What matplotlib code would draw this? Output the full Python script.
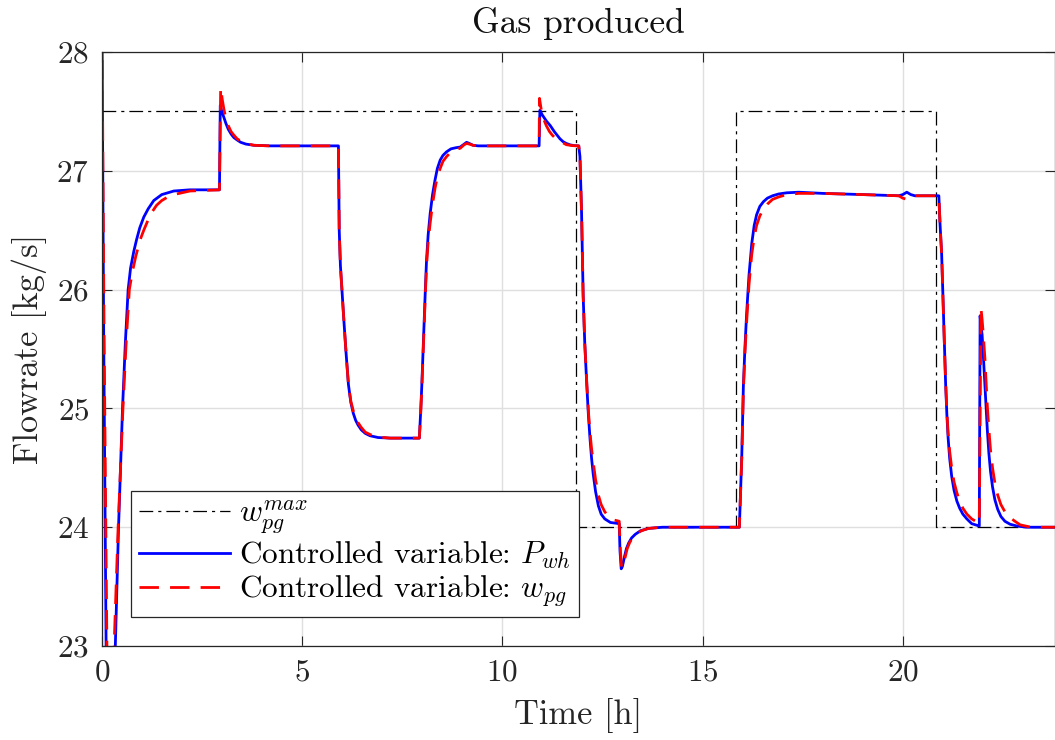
import numpy as np
import matplotlib
matplotlib.use("Agg")
import matplotlib.pyplot as plt

# upper limit on produced gas (dash-dot)
t_max = [0, 11.84, 11.84, 15.84, 15.84, 20.84, 20.84, 23.8]
w_max = [27.5, 27.5, 24.0, 24.0, 27.5, 27.5, 24.0, 24.0]

# controlled variable: P_wh (blue, solid) -- (time [h], flowrate [kg/s])
pwh_points = [
    (0, 28.6), (0.05, 25.6), (0.11, 23.0), (0.2, 22.3), (0.34, 23.0), (0.42, 24.0), (0.52, 25.0),
    (0.59, 25.55), (0.66, 26.0), (0.72, 26.18), (0.8, 26.32), (0.87, 26.42), (0.95, 26.52),
    (1.05, 26.61), (1.16, 26.68), (1.3, 26.75), (1.5, 26.80), (1.8, 26.83), (2.2, 26.84), (2.94, 26.84),
    (2.96, 27.55), (3.0, 27.50), (3.05, 27.45), (3.1, 27.40), (3.16, 27.35), (3.23, 27.31), (3.3, 27.28),
    (3.38, 27.26), (3.47, 27.24), (3.6, 27.225), (3.8, 27.215), (4.2, 27.21), (5.91, 27.21),
    (5.93, 26.5), (5.96, 26.2), (6.0, 25.98), (6.05, 25.72), (6.1, 25.47), (6.16, 25.20), (6.22, 25.05),
    (6.28, 24.96), (6.34, 24.90), (6.4, 24.86), (6.48, 24.82), (6.58, 24.79), (6.7, 24.77), (6.9, 24.755),
    (7.2, 24.75), (7.93, 24.75),
    (7.96, 24.95), (7.99, 25.18), (8.02, 25.46), (8.05, 25.74), (8.08, 26.0), (8.11, 26.25), (8.15, 26.46),
    (8.2, 26.64), (8.26, 26.8), (8.32, 26.92), (8.38, 27.02), (8.45, 27.09), (8.52, 27.13), (8.61, 27.16),
    (8.72, 27.185), (8.85, 27.195), (8.95, 27.20), (9.03, 27.22), (9.11, 27.24), (9.18, 27.23),
    (9.27, 27.215), (9.4, 27.21), (10.92, 27.21),
    (10.94, 27.51), (11.0, 27.47), (11.1, 27.42), (11.2, 27.38), (11.3, 27.33), (11.37, 27.30),
    (11.44, 27.27), (11.52, 27.245), (11.6, 27.23), (11.7, 27.218), (11.8, 27.212), (11.91, 27.21),
    (11.94, 27.12), (11.98, 26.65), (12.02, 25.95), (12.06, 25.55), (12.11, 25.20), (12.15, 24.95),
    (12.19, 24.75), (12.23, 24.58), (12.27, 24.45), (12.33, 24.30), (12.4, 24.18), (12.47, 24.11),
    (12.56, 24.07), (12.7, 24.04), (12.92, 24.03),
    (12.94, 23.80), (12.97, 23.65), (13.0, 23.67), (13.05, 23.75), (13.1, 23.82), (13.16, 23.87),
    (13.23, 23.91), (13.32, 23.94), (13.45, 23.97), (13.65, 23.99), (14.0, 24.0), (15.92, 24.0),
    (15.95, 24.30), (15.98, 24.60), (16.02, 25.19), (16.06, 25.52), (16.1, 25.79), (16.16, 26.12),
    (16.23, 26.39), (16.29, 26.54), (16.35, 26.63), (16.43, 26.70), (16.52, 26.74), (16.62, 26.77),
    (16.75, 26.79), (16.9, 26.805), (17.1, 26.815), (17.4, 26.82), (18.0, 26.81), (19.0, 26.80),
    (19.9, 26.79), (20.0, 26.80), (20.1, 26.82), (20.2, 26.80), (20.3, 26.79), (20.9, 26.79),
    (20.93, 26.55), (20.97, 26.30), (21.01, 25.85), (21.04, 25.52), (21.07, 25.20), (21.1, 24.95),
    (21.13, 24.76), (21.17, 24.58), (21.22, 24.43), (21.28, 24.31), (21.35, 24.22), (21.42, 24.16),
    (21.5, 24.11), (21.6, 24.07), (21.72, 24.03), (21.91, 24.01),
    (21.93, 25.78), (21.95, 25.70), (21.98, 25.62), (22.01, 25.45), (22.05, 25.2), (22.08, 25.0),
    (22.11, 24.82), (22.15, 24.62), (22.19, 24.47), (22.24, 24.34), (22.3, 24.23), (22.37, 24.15),
    (22.45, 24.09), (22.55, 24.05), (22.68, 24.025), (22.85, 24.01), (23.1, 24.0), (23.8, 24.0),
]

# controlled variable: w_pg (red, dashed)
wpg_points = [
    (0, 28.6), (0.06, 25.6), (0.13, 23.0), (0.22, 22.3), (0.31, 23.0), (0.41, 24.0), (0.53, 25.0),
    (0.61, 25.55), (0.69, 26.0), (0.76, 26.14), (0.85, 26.28), (0.96, 26.42), (1.05, 26.5), (1.15, 26.58),
    (1.25, 26.65), (1.37, 26.71), (1.5, 26.75), (1.65, 26.78), (1.8, 26.80), (2.2, 26.83), (2.94, 26.84),
    (2.97, 27.70), (3.01, 27.60), (3.05, 27.52), (3.1, 27.44), (3.16, 27.38), (3.23, 27.33), (3.3, 27.30),
    (3.38, 27.27), (3.47, 27.25), (3.6, 27.23), (3.8, 27.215), (4.2, 27.21), (5.91, 27.21),
    (5.93, 26.5), (5.96, 26.2), (6.0, 25.98), (6.05, 25.72), (6.1, 25.47), (6.16, 25.20), (6.22, 25.06),
    (6.28, 24.98), (6.34, 24.92), (6.4, 24.88), (6.48, 24.84), (6.58, 24.80), (6.7, 24.78), (6.9, 24.76),
    (7.2, 24.75), (7.93, 24.75),
    (7.96, 24.93), (7.99, 25.15), (8.02, 25.42), (8.05, 25.70), (8.08, 25.96), (8.11, 26.20), (8.15, 26.40),
    (8.2, 26.56), (8.26, 26.72), (8.32, 26.85), (8.38, 26.95), (8.45, 27.02), (8.52, 27.08), (8.61, 27.12),
    (8.72, 27.16), (8.85, 27.18), (8.95, 27.19), (9.05, 27.22), (9.11, 27.23), (9.18, 27.225),
    (9.27, 27.215), (9.4, 27.21), (10.92, 27.21),
    (10.93, 27.61), (10.98, 27.50), (11.04, 27.43), (11.1, 27.38), (11.18, 27.33), (11.25, 27.30),
    (11.34, 27.27), (11.44, 27.25), (11.52, 27.235), (11.6, 27.22), (11.75, 27.212), (11.91, 27.21),
    (11.94, 27.12), (11.98, 26.65), (12.02, 25.95), (12.06, 25.55), (12.11, 25.22), (12.15, 24.98),
    (12.19, 24.80), (12.23, 24.66), (12.27, 24.55), (12.33, 24.40), (12.4, 24.27), (12.47, 24.19),
    (12.56, 24.13), (12.63, 24.10), (12.7, 24.08), (12.8, 24.06), (12.92, 24.05),
    (12.95, 23.80), (12.98, 23.66), (13.02, 23.68), (13.07, 23.75), (13.12, 23.82), (13.18, 23.87),
    (13.25, 23.91), (13.34, 23.94), (13.47, 23.97), (13.65, 23.99), (14.0, 24.0), (15.92, 24.0),
    (15.95, 24.28), (15.98, 24.58), (16.02, 25.15), (16.06, 25.47), (16.1, 25.72), (16.16, 26.04),
    (16.23, 26.30), (16.29, 26.44), (16.35, 26.54), (16.43, 26.62), (16.52, 26.68), (16.62, 26.72),
    (16.75, 26.76), (16.9, 26.78), (17.1, 26.80), (17.4, 26.81), (18.0, 26.81), (19.0, 26.80),
    (19.9, 26.79), (20.0, 26.77), (20.1, 26.76), (20.2, 26.78), (20.3, 26.79), (20.9, 26.79),
    (20.93, 26.55), (20.97, 26.30), (21.01, 25.85), (21.04, 25.52), (21.07, 25.22), (21.1, 24.98),
    (21.13, 24.80), (21.17, 24.64), (21.22, 24.50), (21.28, 24.38), (21.35, 24.29), (21.42, 24.22),
    (21.5, 24.16), (21.6, 24.11), (21.72, 24.07), (21.82, 24.05), (21.91, 24.03),
    (21.95, 25.85), (21.98, 25.75), (22.01, 25.62), (22.05, 25.42), (22.08, 25.22), (22.11, 25.02),
    (22.15, 24.82), (22.19, 24.65), (22.24, 24.50), (22.3, 24.37), (22.37, 24.27), (22.45, 24.19),
    (22.55, 24.13), (22.68, 24.08), (22.8, 24.05), (22.93, 24.02), (23.2, 24.0), (23.8, 24.0),
]

x_ticks = [0, 5, 10, 15, 20]
y_ticks = [23, 24, 25, 26, 27, 28]

t_pwh, y_pwh = zip(*pwh_points)
t_wpg, y_wpg = zip(*wpg_points)

plt.rcParams['font.family'] = 'serif'
plt.rcParams['font.serif'] = ['cmr10']
plt.rcParams['mathtext.fontset'] = 'cm'
plt.rcParams['axes.formatter.use_mathtext'] = True

fig = plt.figure(figsize=(10.55, 7.4), dpi=100)
ax = fig.add_axes([0.0964, 0.127, 0.9036, 0.8027])

ax.plot(t_max, w_max, color='black', lw=0.9, linestyle=(0, (11, 4, 2.5, 4)),
        label=r'$w_{pg}^{max}$')
ax.plot(t_pwh, y_pwh, color='#0000ff', lw=2.0, label=r'Controlled variable: $P_{wh}$')
ax.plot(t_wpg, y_wpg, color='#ff0000', lw=2.0, linestyle=(0, (7, 4)),
        label=r'Controlled variable: $w_{pg}$')

ax.set_xlim(0, 23.8)
ax.set_ylim(23, 28)
ax.set_xticks(x_ticks)
ax.set_yticks(y_ticks)
ax.grid(True, color='#dfdfdf', lw=1.0)
ax.set_axisbelow(True)
ax.tick_params(direction='in', length=7, width=0.8, color='#262626', labelsize=22.5,
               top=True, right=True, labelcolor='#262626', pad=9)
for s in ax.spines.values():
    s.set_color('#262626')
    s.set_linewidth(0.9)

ax.set_title('Gas produced', fontsize=25.5, color='#111111', pad=14)
ax.set_xlabel('Time [h]', fontsize=24.8, color='#262626', labelpad=8)
ax.set_ylabel('Flowrate [kg/s]', fontsize=24.8, color='#262626', labelpad=7)

leg = ax.legend(loc='lower left', bbox_to_anchor=(0.031, 0.049), borderaxespad=0,
                fontsize=22.5, handlelength=2.9, handletextpad=0.3, labelspacing=0.1,
                borderpad=0.25, fancybox=False, framealpha=1, edgecolor='#262626')
leg.get_frame().set_linewidth(0.9)

fig.savefig('out.png', dpi=100)
